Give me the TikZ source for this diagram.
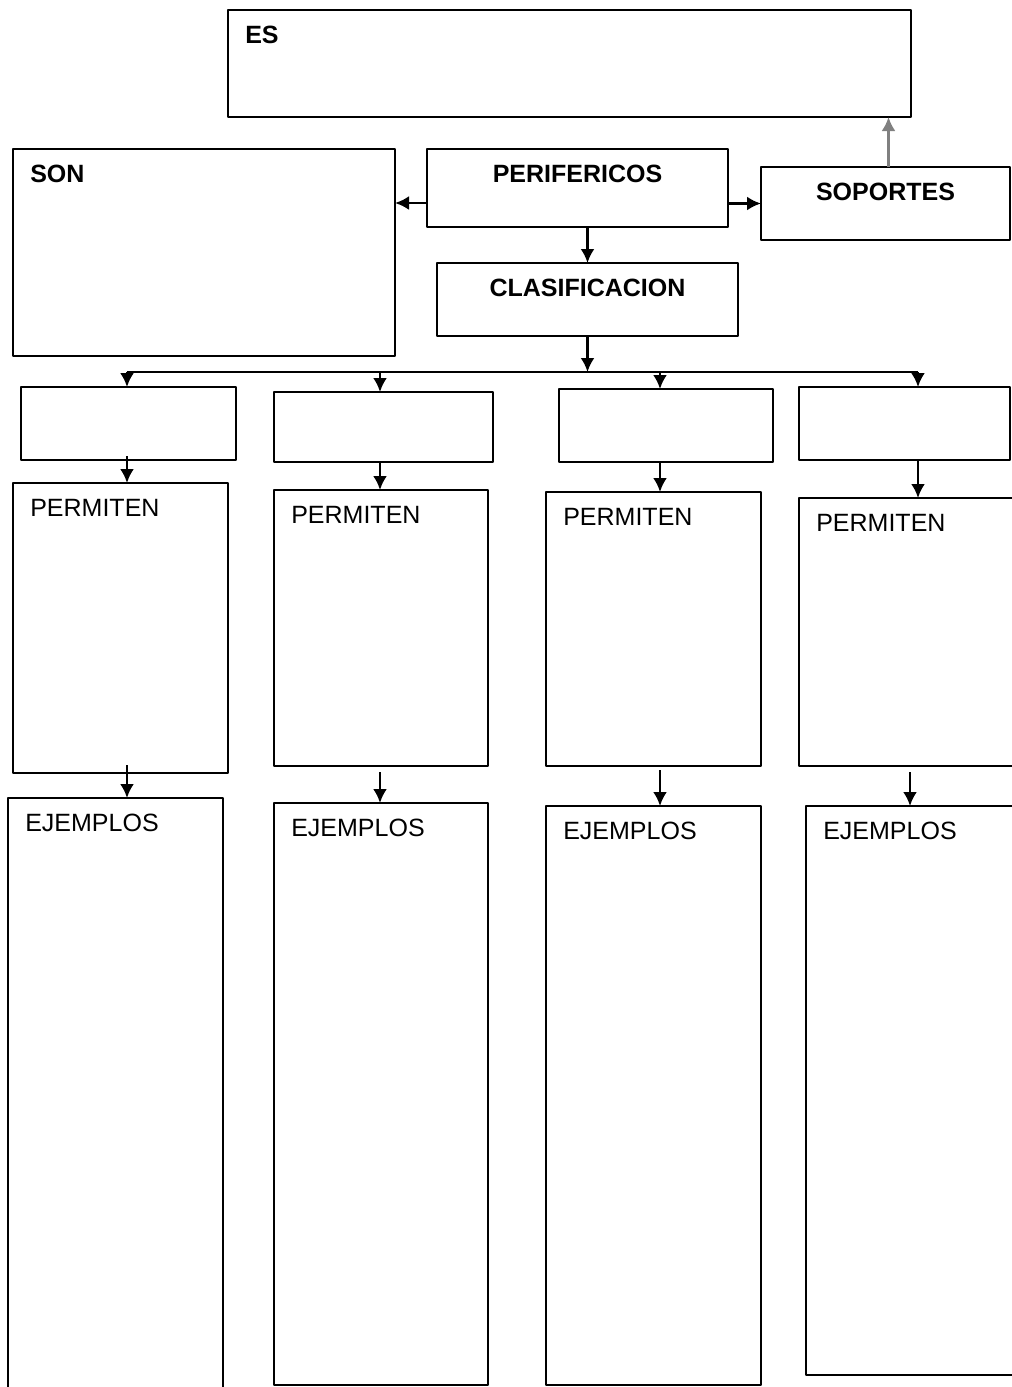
\documentclass[tikz,border=0pt]{standalone}
\usepackage{fontspec}
\setmainfont{Liberation Sans}
\usetikzlibrary{arrows.meta}
\tikzset{
	box/.style 2 args = {rectangle, draw = black, line width = 1.3pt, anchor = north west, inner sep = 0pt, outer sep = 0pt, minimum width = #1*0.5pt, minimum height = #2*0.5pt},
	tl/.style = {anchor = base west, inner sep = 0pt, xshift = 8pt, yshift = -16.5pt},
	tc/.style = {anchor = base, inner sep = 0pt, yshift = -16.5pt, font = \fontsize{12.5}{15}\selectfont\bfseries},
}
\begin{document}
\begin{tikzpicture}[x = 0.5pt, y = -0.5pt, line join = round, >={Latex[length=7pt,width=7pt]}, line width = 1.3pt, font = \fontsize{12.5}{15}\selectfont]
	\useasboundingbox (0,0) rectangle (1012,1387);
	%		top part
	\node[box = {683}{107}, label = {[tl, font = \fontsize{12.5}{15}\selectfont\bfseries]north west:ES}] (es) at (228,10) {};
	\node[box = {382}{207}, label = {[tl, font = \fontsize{12.5}{15}\selectfont\bfseries]north west:SON}] (son) at (13,149) {};
	\node[box = {301}{78}, label = {[tc]north:PERIFERICOS}] (per) at (427,149) {};
	\node[box = {249}{73}, label = {[tc]north:SOPORTES}] (sop) at (761,167) {};
	\node[box = {301}{73}, label = {[tc]north:CLASIFICACION}] (clas) at (437,263) {};
	
	%		row of four
	\node[box = {215}{73}] (c1) at (21,387) {};
	\node[box = {219}{70}] (c2) at (274,392) {};
	\node[box = {214}{73}] (c3) at (559,389) {};
	\node[box = {211}{73}] (c4) at (799,387) {};
	
	\node[box = {215}{290}, label = {[tl]north west:PERMITEN}] (p1) at (13,483) {};
	\node[box = {214}{276}, label = {[tl]north west:PERMITEN}] (p2) at (274,490) {};
	\node[box = {215}{274}, label = {[tl]north west:PERMITEN}] (p3) at (546,492) {};
	\node[box = {240}{268}, label = {[tl]north west:PERMITEN}] (p4) at (799,498) {};
	
	\node[box = {215}{620}, label = {[tl]north west:EJEMPLOS}] (e1) at (8,798) {};
	\node[box = {214}{582}, label = {[tl]north west:EJEMPLOS}] (e2) at (274,803) {};
	\node[box = {215}{579}, label = {[tl]north west:EJEMPLOS}] (e3) at (546,806) {};
	\node[box = {240}{569}, label = {[tl]north west:EJEMPLOS}] (e4) at (806,806) {};
	
	\coordinate (b1) at (127,372);
	\coordinate (b2) at (380,372);
	\coordinate (b3) at (660,372);
	\coordinate (b4) at (918,372);
	\coordinate (b5) at (910,372);
	
	%		connectors
	\draw[->] ([yshift = -7.5pt]per.west) -- ([yshift = -7.5pt]per.west -| son.east);
	\draw[->] (sop.west -| per.east) -- (sop.west);
	\draw[->, gray] ([xshift = 1.5pt]sop.north) -- ([xshift = 1.5pt]sop.north |- es.south);
	\draw[->] (clas.north |- per.south) -- (clas.north);
	\draw[->] (clas.south) -- (clas.south |- b1);
	\draw (b1) -- (b4);
	\draw[->] (b1) -- (b1 |- c1.north);
	\draw[->] (b2) -- (b2 |- c2.north);
	\draw[->] (b3) -- (b3 |- c3.north);
	\draw[->] (b4) -- (b4 |- c4.north);
	
	\draw[->] ([yshift = 2pt]b1 |- c1.south) -- (b1 |- p1.north);
	\draw[->] (b2 |- c2.south) -- (b2 |- p2.north);
	\draw[->] (b3 |- c3.south) -- (b3 |- p3.north);
	\draw[->] (b4 |- c4.south) -- (b4 |- p4.north);
	
	\draw[->] ([yshift = 4pt]b1 |- p1.south) -- (b1 |- e1.north);
	\draw[->] ([yshift = -3pt]b2 |- p2.south) -- (b2 |- e2.north);
	\draw[->] ([yshift = -2pt]b3 |- p3.south) -- (b3 |- e3.north);
	\draw[->] ([yshift = -3pt]b5 |- p4.south) -- (b5 |- e4.north);
\end{tikzpicture}
\end{document}
